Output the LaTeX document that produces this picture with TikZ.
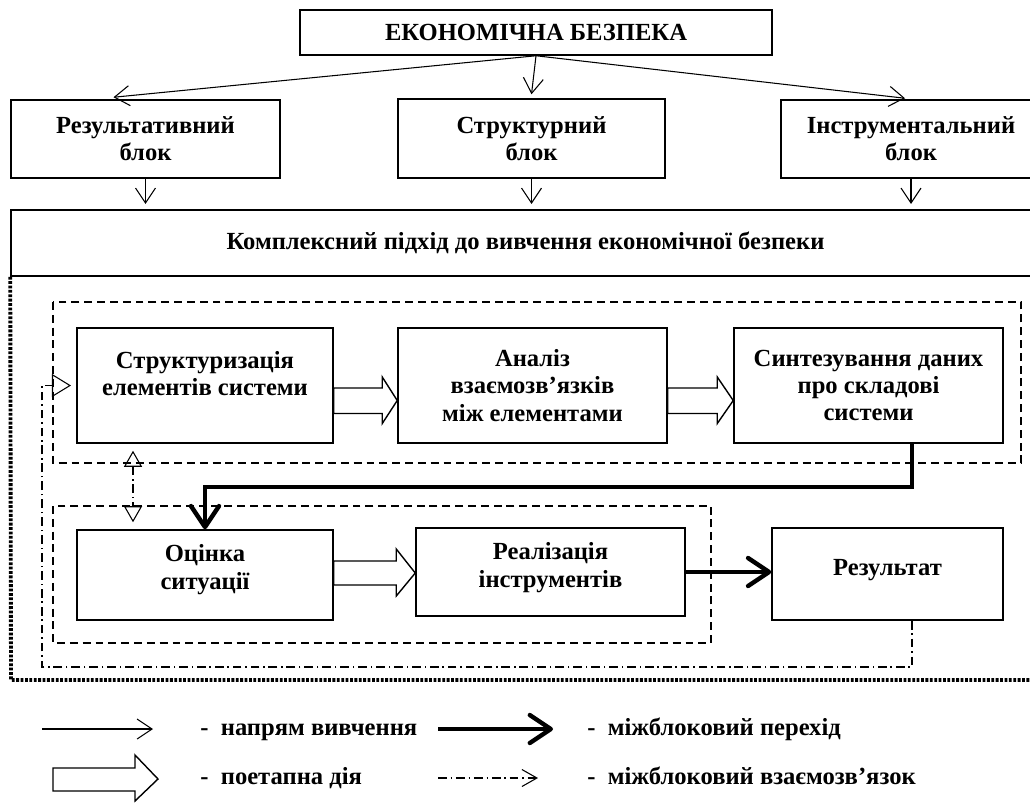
\documentclass[tikz,border=0pt]{standalone}
\usepackage{fontspec}
\setmainfont{Liberation Serif}
\usetikzlibrary{arrows.meta,calc}
\newcommand\liftup[2]{\raisebox{0pt}[\height][\dimexpr\depth+#1\relax]{\begin{tabular}{@{}c@{}}#2\end{tabular}}}
\begin{document}
\begin{tikzpicture}[x=0.02cm,y=-0.02cm,
  every node/.style={font=\fontsize{14}{15.5}\selectfont\bfseries},
  box/.style={draw, line width=0.85pt, align=center, inner sep=0pt},
  sz/.style 2 args={minimum width=#1*0.02cm, minimum height=#2*0.02cm},
  thinarr/.style={line width=0.6pt, -{Straight Barb[length=0.3cm,width=0.4cm]}},
  thickarr/.style={line width=2.5pt, -{Straight Barb[length=0.42cm,width=0.56cm,round]}},
  hollow/.style={draw, line width=0.8pt, fill=white, line join=miter},
  grpframe/.style={line width=0.6pt, dash pattern=on 4.5pt off 2.8pt},
  dashdot/.style={line width=0.6pt, dash pattern=on 5pt off 2.2pt on 0.8pt off 2.2pt},
  dotframe/.style={line width=2.2pt, dash pattern=on 1.6pt off 0.9pt},
  legend/.style={anchor=west, inner sep=0pt, text height=10pt, text depth=3pt}
]
\useasboundingbox (0,0) rectangle (1030,802);

% top level
\node[box, sz={472}{45}] (title) at (536,32.5) {ЕКОНОМІЧНА БЕЗПЕКА};
\node[box, sz={269}{78}] (b1) at (145.5,139) {Результативний\\блок};
\node[box, sz={267}{79}] (b2) at (531.5,138.5) {Структурний\\блок};
\node[box, sz={260}{78}] (b3) at (911,139) {Інструментальний\\блок};
\node[box, sz={1029}{66}] (cx) at (525.5,243) {Комплексний підхід до вивчення економічної безпеки};

\draw[thinarr] (title.south) -- ($(b1.north)+(-32,-2)$);
\draw[thinarr] (title.south) -- ($(b2.north)+(0,-4)$);
\draw[thinarr] (title.south) -- ($(b3.north)+(-6,-1)$);
\draw[thinarr, shorten >=3pt] (b1.south) -- (b1.south |- cx.north);
\draw[thinarr, shorten >=3pt] (b2.south) -- (b2.south |- cx.north);
\draw[thinarr, shorten >=3pt] (b3.south) -- (b3.south |- cx.north);

% frames
\draw[dotframe] (cx.south west) -- (11,680) -- (1040,680);
\draw[grpframe] (53,302) rectangle (1021,463);
\draw[grpframe] (53,506) rectangle (711,643);

% stage boxes
\node[box, sz={256}{115}] (s1) at (205,385.5) {\liftup{10pt}{Структуризація\\елементів системи}};
\node[box, sz={269}{115}] (s2) at (532.5,385.5) {Аналіз\\взаємозв’язків\\між елементами};
\node[box, sz={269}{115}] (s3) at (868.5,385.5) {Синтезування даних\\про складові\\системи};
\node[box, sz={256}{90}] (o1) at (205,575) {\liftup{5.7pt}{Оцінка\\ситуації}};
\node[box, sz={269}{88}] (o2) at (550.5,572) {\liftup{4.5pt}{Реалізація\\інструментів}};
\node[box, sz={231}{92}] (res) at (887.5,574) {\liftup{4.5pt}{Результат}};

% hollow step arrows
\draw[hollow] ($(s1.east)+(0,2.5)$) -- ($(s2.west)+(-15,2.5)$) -- ++(0,-11) -- ($(s2.west)+(0,15)$) -- ($(s2.west)+(-15,38)$) -- ++(0,-10) -- ($(s1.east)+(0,28)$) -- cycle;
\draw[hollow] ($(s2.east)+(0,2.5)$) -- ($(s3.west)+(-16,2.5)$) -- ++(0,-11) -- ($(s3.west)+(0,15)$) -- ($(s3.west)+(-16,38)$) -- ++(0,-10) -- ($(s2.east)+(0,28)$) -- cycle;
\draw[hollow] ($(o1.east)+(0,-14)$) -- ($(o2.west)+(-19,-11)$) -- ++(0,-12) -- ($(o2.west)+(0,1)$) -- ($(o2.west)+(-19,24)$) -- ++(0,-11) -- ($(o1.east)+(0,10)$) -- cycle;

% inter-block transitions
\coordinate (xr) at (912,0);
\coordinate (xd) at (133,0);
\draw[thickarr] (s3.south -| xr) |- ($(o1.north)+(0,-42)$) -- (o1.north);
\draw[thickarr] (o2.east) -- (o2.east -| res.west);

% inter-block links
\draw[dashdot, {Triangle[open,length=0.32cm,width=0.36cm]}-{Triangle[open,length=0.32cm,width=0.36cm]}, shorten <=4pt, shorten >=4pt] (s1.south -| xd) -- (o1.north -| xd);
\coordinate (fbb) at (42,667);
\draw[dashdot, -{Triangle[open,length=0.38cm,width=0.46cm]}, shorten >=3pt] (res.south -| xr) |- (fbb) |- (s1.west);

% legend
\coordinate (l1a) at (42,729); \coordinate (l1b) at (153,729);
\draw[thinarr] (l1a) -- (l1b);
\node[legend] (t1) at (200,729) {-\ \ напрям вивчення};
\coordinate (l2a) at (438,729); \coordinate (l2b) at (553,729);
\draw[thickarr] (l2a) -- (l2b);
\node[legend] (t2) at (587,729) {-\ \ міжблоковий перехід};
\draw[hollow] (53,768) -- (135,768) -- (135,755) -- (158,779) -- (135,801) -- (135,791) -- (53,791) -- cycle;
\node[legend] (t3) at (200,778) {-\ \ поетапна дія};
\coordinate (l4a) at (438,778); \coordinate (l4b) at (538,778);
\draw[dashdot, -{Straight Barb[length=0.3cm,width=0.34cm]}] (l4a) -- (l4b);
\node[legend] (t4) at (587,778) {-\ \ міжблоковий взаємозв’язок};
\end{tikzpicture}
\end{document}
